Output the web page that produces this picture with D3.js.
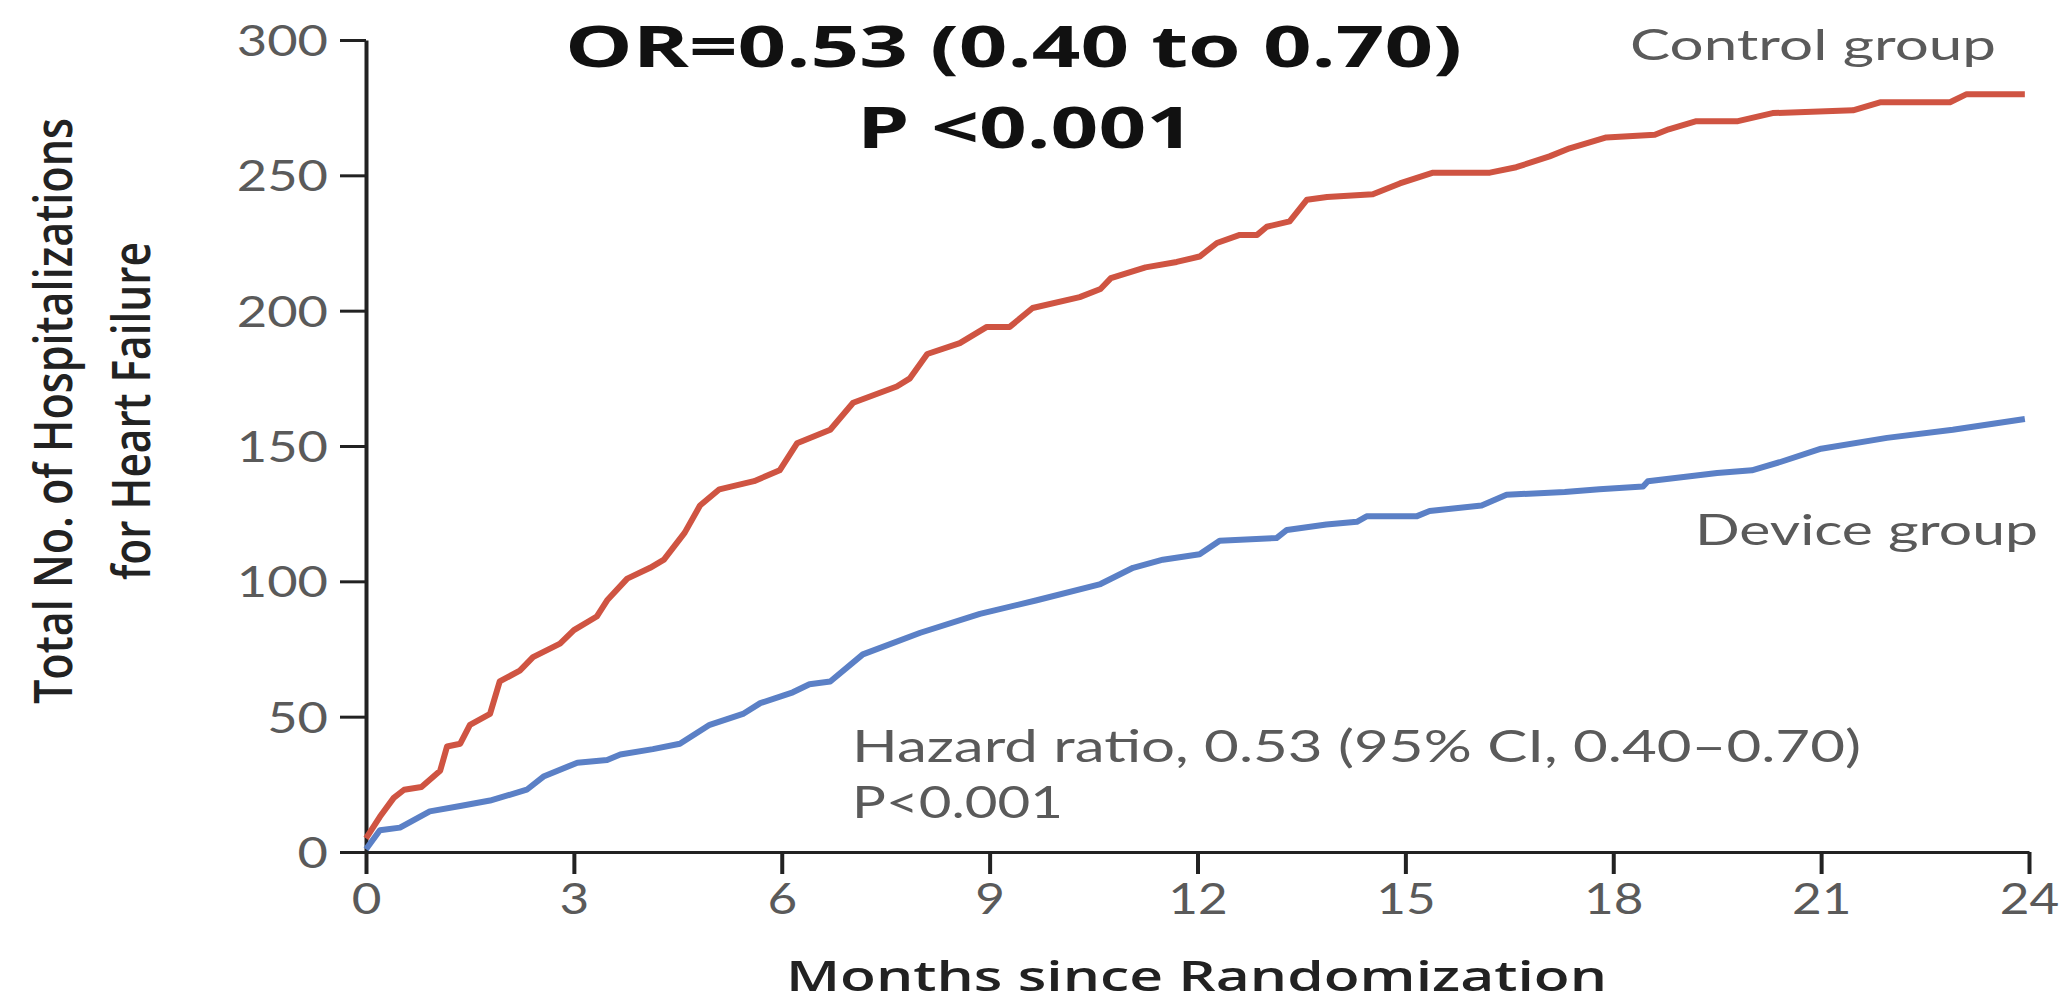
<!DOCTYPE html>
<html>
<head>
<meta charset="utf-8">
<script src="https://cdn.jsdelivr.net/npm/d3@7"></script>
<style>
  body { margin: 0; background: #fff; }
  svg { display: block; }
</style>
</head>
<body>
<div id="chart"></div>
<script>
// cumulative hospitalizations
var controlMonths = [0, 0.2, 0.4, 0.55, 0.8, 1.07, 1.17, 1.36, 1.5, 1.79, 1.93, 2.22, 2.41, 2.8, 3.0, 3.33, 3.48, 3.77,
  4.1, 4.3, 4.6, 4.82, 5.1, 5.6, 5.97, 6.22, 6.7, 7.03, 7.66, 7.85, 8.1, 8.57, 8.96, 9.29, 9.62, 10.3, 10.6, 10.75,
  11.25, 11.7, 12.03, 12.28, 12.61, 12.86, 13.0, 13.33, 13.58, 13.87, 14.53, 14.92, 15.4, 16.22, 16.6, 17.08, 17.37,
  17.9, 18.6, 18.8, 19.2, 19.8, 20.3, 21.46, 21.85, 22.86, 23.1, 23.94];
var controlCounts = [5, 13, 20, 23, 24, 30, 39, 40, 47, 51, 63, 67, 72, 77, 82, 87, 93, 101,
  105, 108, 118, 128, 134, 137, 141, 151, 156, 166, 172, 175, 184, 188, 194, 194, 201, 205, 208, 212,
  216, 218, 220, 225, 228, 228, 231, 233, 241, 242, 243, 247, 251, 251, 253, 257, 260,
  264, 265, 267, 270, 270, 273, 274, 277, 277, 280, 280];

var deviceMonths = [0, 0.2, 0.49, 0.92, 1.36, 1.79, 2.32, 2.57, 3.05, 3.48, 3.67, 4.14, 4.53, 4.96, 5.44, 5.69, 6.16,
  6.4, 6.7, 7.17, 8.0, 8.86, 9.68, 10.6, 11.07, 11.5, 12.03, 12.32, 13.14, 13.29, 13.86, 14.3, 14.44, 15.16, 15.35,
  16.1, 16.46, 17.3, 17.8, 18.43, 18.5, 19.5, 20.0, 20.4, 21.0, 21.95, 22.9, 23.94];
var deviceCounts = [1, 8, 9, 15, 17, 19, 23, 28, 33, 34, 36, 38, 40, 47, 51, 55, 59,
  62, 63, 73, 81, 88, 93, 99, 105, 108, 110, 115, 116, 119, 121, 122, 124, 124, 126,
  128, 132, 133, 134, 135, 137, 140, 141, 144, 149, 153, 156, 160];

var xTicks = [0, 3, 6, 9, 12, 15, 18, 21, 24];
var yTicks = [0, 50, 100, 150, 200, 250, 300];

var titleLines = ["OR=0.53 (0.40 to 0.70)", "P <0.001"];
var noteLines = ["Hazard ratio, 0.53 (95% CI, 0.40\u20130.70)", "P<0.001"];
var yLabelLines = ["Total No. of Hospitalizations", "for Heart Failure"];
var xLabel = "Months since Randomization";

var W = 2062, H = 1004;
var margin = {top: 40, right: 33, bottom: 152, left: 366};
var width = W - margin.left - margin.right,
    height = H - margin.top - margin.bottom;

var red = "#cf5442", blue = "#5b80c6", grey = "#5a5a5a", ink = "#222";
var SX = 1.22;   // the source image is stretched sideways

function fit(sel, w) {
  return sel.attr("textLength", w).attr("lengthAdjust", "spacingAndGlyphs");
}

var root = d3.select("#chart").append("svg")
  .attr("width", W)
  .attr("height", H);

root.append("rect").attr("width", W).attr("height", H).attr("fill", "#fff");

var svg = root.append("g")
  .attr("transform", "translate(" + margin.left + "," + margin.top + ")");

var x = d3.scaleLinear().domain([0, 24]).range([0, width]);
var y = d3.scaleLinear().domain([0, 300]).range([height, 0]);

// Y axis
var yAxis = svg.append("g")
  .attr("class", "y axis")
  .call(d3.axisLeft(y).tickValues(yTicks).tickSize(26).tickSizeOuter(0));
yAxis.select(".domain").attr("stroke", ink).attr("stroke-width", 4);
yAxis.selectAll(".tick line").attr("stroke", ink).attr("stroke-width", 3);
yAxis.selectAll(".tick text")
  .attr("x", 0).attr("dy", "0.36em")
  .attr("transform", "translate(-38,0) scale(" + SX + ",1)")
  .attr("fill", grey)
  .style("font-family", "Lato, sans-serif")
  .style("font-size", "43px");

// X axis
var xAxis = svg.append("g")
  .attr("class", "x axis")
  .attr("transform", "translate(0," + height + ")")
  .call(d3.axisBottom(x).tickValues(xTicks).tickSize(22).tickSizeOuter(0));
xAxis.select(".domain").attr("stroke", ink).attr("stroke-width", 3);
xAxis.selectAll(".tick line").attr("stroke", ink).attr("stroke-width", 4);
xAxis.selectAll(".tick text")
  .attr("y", 0).attr("dy", 0)
  .attr("transform", "translate(0,62) scale(" + SX + ",1)")
  .attr("fill", grey)
  .style("font-family", "Lato, sans-serif")
  .style("font-size", "42px");
root.selectAll(".axis").attr("font-family", null);

// curves
var line = d3.line()
  .x(function(d) { return x(d[0]); })
  .y(function(d) { return y(d[1]); });

var controlData = d3.zip(controlMonths, controlCounts);
var deviceData = d3.zip(deviceMonths, deviceCounts);

svg.append("path")
  .attr("class", "line control")
  .attr("d", line(controlData))
  .attr("fill", "none")
  .attr("stroke", red)
  .attr("stroke-width", 6)
  .attr("stroke-linejoin", "round");

svg.append("path")
  .attr("class", "line device")
  .attr("d", line(deviceData))
  .attr("fill", "none")
  .attr("stroke", blue)
  .attr("stroke-width", 6)
  .attr("stroke-linejoin", "round");

// group labels
fit(root.append("text")
  .attr("x", 1630).attr("y", 60)
  .attr("fill", grey)
  .style("font-family", "Lato, sans-serif")
  .style("font-size", "43px")
  .text("Control group"), 366);

fit(root.append("text")
  .attr("x", 1695).attr("y", 545)
  .attr("fill", grey)
  .style("font-family", "Lato, sans-serif")
  .style("font-size", "43px")
  .text("Device group"), 343);

// hazard ratio note
var noteX = [852, 852], noteY = [762, 818], noteW = [1009, 211];
noteLines.forEach(function(t, i) {
  fit(root.append("text")
    .attr("x", noteX[i]).attr("y", noteY[i])
    .attr("fill", grey)
    .style("font-family", "Lato, sans-serif")
    .style("font-size", "44px")
    .text(t), noteW[i]);
});

// bold heading added on the slide
var titleX = [565, 857], titleY = [67, 148], titleW = [897, 337];
titleLines.forEach(function(t, i) {
  fit(root.append("text")
    .attr("x", titleX[i]).attr("y", titleY[i])
    .attr("fill", "#111")
    .style("font-family", "'Open Sans', sans-serif")
    .style("font-weight", 700)
    .style("font-size", "58px")
    .text(t), titleW[i]);
});

// axis titles
fit(root.append("text")
  .attr("x", 786).attr("y", 991)
  .attr("fill", ink)
  .style("font-family", "'Open Sans', sans-serif")
  .style("font-weight", 600)
  .style("font-size", "42px")
  .text(xLabel), 821);

var yLabX = [72, 150], yLabW = [586, 338];
yLabelLines.forEach(function(t, i) {
  fit(root.append("text")
    .attr("transform", "translate(" + yLabX[i] + ",411) rotate(-90) scale(1,1.15)")
    .attr("text-anchor", "middle")
    .attr("fill", ink)
    .style("font-family", "'Open Sans', sans-serif")
    .style("font-weight", 600)
    .style("font-size", "46px")
    .text(t), yLabW[i]);
});
</script>
</body>
</html>
